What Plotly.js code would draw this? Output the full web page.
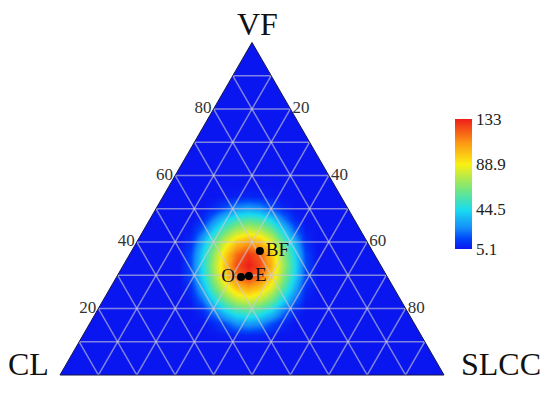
<!DOCTYPE html>
<html>
<head>
<meta charset="utf-8">
<script src="https://cdn.plot.ly/plotly-3.0.1.min.js"></script>
<style>html,body{margin:0;padding:0;background:#fff;}#chart{width:550px;height:393px;}</style>
</head>
<body>
<div id="chart"></div>
<script>
// ---- data ----
var pointNames = ['O', 'E', 'BF'];
var pointVF   = [29.5, 29.8, 37.3];   // a
var pointCL   = [38.1, 35.9, 29.3];   // b
var pointSLCC = [32.4, 34.3, 33.4];   // c
var pointTextPos = ['middle left', 'middle right', 'middle right'];

var tickVals = [10, 20, 30, 40, 50, 60, 70, 80, 90];
var tickText = ['', '20', '', '40', '', '60', '', '80', ''];

var cbTickVals = [5.1, 44.5, 88.9, 133];
var cbTickText = ['5.1', '44.5', '88.9', '133'];
var zMin = 5.1, zMax = 133;

// field values (grid in triangle units, base = 100)
var fieldX = [31, 34, 37, 40, 43, 46, 49, 52, 55, 58, 61, 64, 67];
var fieldY = [7.5, 10.5, 13.5, 16.5, 19.5, 22.5, 25.5, 28.5, 31.5, 34.5, 37.5, 40.5, 43.5, 46.5, 49.5];
var fieldZ = [
 [5.1,5.1,5.1,5.1,5.1,5.1,5.1,5.1,5.1,5.1,5.1,5.1,5.1],
 [5.1,5.1,5.1,5.1,6,7.6,8.5,7.6,6,5.1,5.1,5.1,5.1],
 [5.1,5.1,5.1,9,17,27,30,27,17,9,5.1,5.1,5.1],
 [5.1,5.1,9.4,24,41,52,56,52,41,24,9.4,5.1,5.1],
 [5.1,6.8,21,43,63,76,81,76,63,43,21,6.8,5.1],
 [5.1,10,34,59,82,98,105,98,82,59,34,10,5.1],
 [5.1,15,42,69,96,117,126,117,96,69,42,15,5.1],
 [5.1,16,45,73,101,124,133,125,102,74,46,16,5.1],
 [5.1,15,42,69,96,118,128,121,99,71,43,15,5.1],
 [5.1,10,34,59,82,99,108,102,85,61,35,10,5.1],
 [5.1,6.8,21,43,63,76,82,78,65,44,21,6.8,5.1],
 [5.1,5.1,9.4,24,41,52,56,53,42,24,9.4,5.1,5.1],
 [5.1,5.1,5.1,9,17,27,30,27,17,9,5.1,5.1,5.1],
 [5.1,5.1,5.1,5.1,6,7.6,8.5,7.6,6,5.1,5.1,5.1,5.1],
 [5.1,5.1,5.1,5.1,5.1,5.1,5.1,5.1,5.1,5.1,5.1,5.1,5.1]
];

// ---- styling ----
var W = 550, H = 393;
var triLeft = 60, triWidth = 384, triBase = 375;
var triHeight = triWidth * Math.sqrt(3) / 2;
var dom = {
  x: [triLeft / W, (triLeft + triWidth) / W],
  y: [1 - triBase / H, 1 - (triBase - triHeight) / H]
};
var BLUE = 'rgb(10,22,240)';
var colorscale = [
  [0, BLUE],
  [0.08, 'rgb(0,70,250)'],
  [0.16, 'rgb(20,140,250)'],
  [0.30, 'rgb(25,220,240)'],
  [0.45, 'rgb(110,230,130)'],
  [0.65, 'rgb(250,240,20)'],
  [0.82, 'rgb(252,150,20)'],
  [1, 'rgb(238,30,25)']
];
var serif = 'Liberation Serif, Times New Roman, serif';

function axisStyle(showLabels) {
  return {
    title: {text: ''},
    tickmode: 'array',
    tickvals: tickVals,
    ticktext: tickText,
    ticks: '',
    showticklabels: showLabels,
    tickfont: {family: serif, size: 17, color: '#333'},
    showgrid: true,
    gridcolor: 'rgba(205,205,215,0.6)',
    gridwidth: 1.5,
    showline: true,
    linecolor: '#15154a',
    linewidth: 1
  };
}

var heat = {
  type: 'heatmap',
  x: fieldX, y: fieldY, z: fieldZ,
  xaxis: 'x', yaxis: 'y',
  zmin: zMin, zmax: zMax,
  zsmooth: 'best',
  colorscale: colorscale,
  hoverinfo: 'skip',
  colorbar: {
    x: 455 / W, xanchor: 'left', xpad: 0,
    y: 1 - 184 / H, yanchor: 'middle', ypad: 0,
    lenmode: 'pixels', len: 130,
    thickness: 17,
    outlinewidth: 0,
    tickmode: 'array', tickvals: cbTickVals, ticktext: cbTickText,
    ticks: '',
    tickfont: {family: serif, size: 17, color: '#222'}
  }
};

var pts = {
  type: 'scatterternary',
  mode: 'markers+text',
  a: pointVF, b: pointCL, c: pointSLCC,
  text: pointNames,
  textposition: pointTextPos,
  textfont: {family: serif, size: 19, color: '#111'},
  marker: {color: '#000', size: 8},
  cliponaxis: false,
  hoverinfo: 'skip',
  showlegend: false
};

var layout = {
  width: W, height: H,
  margin: {l: 0, r: 0, t: 0, b: 0},
  paper_bgcolor: '#fff',
  plot_bgcolor: 'rgba(0,0,0,0)',
  showlegend: false,
  xaxis: {domain: dom.x, range: [0, 100], visible: false, fixedrange: true},
  yaxis: {domain: dom.y, range: [0, 100 * Math.sqrt(3) / 2], visible: false, fixedrange: true},
  ternary: {
    domain: dom,
    sum: 100,
    bgcolor: 'rgba(0,0,0,0)',
    aaxis: axisStyle(true),
    baxis: axisStyle(false),
    caxis: axisStyle(true)
  },
  shapes: [{
    type: 'path', xref: 'x', yref: 'y', layer: 'below',
    path: 'M 0 0 L 100 0 L 50 ' + (100 * Math.sqrt(3) / 2) + ' Z',
    fillcolor: BLUE, line: {width: 0}
  }],
  annotations: [
    {text: 'VF', xref: 'paper', yref: 'paper', x: 257 / W, y: 1 - 24 / H, showarrow: false,
     font: {family: serif, size: 32, color: '#111'}, xanchor: 'center', yanchor: 'middle'},
    {text: 'CL', xref: 'paper', yref: 'paper', x: 28 / W, y: 1 - 364 / H, showarrow: false,
     font: {family: serif, size: 32, color: '#111'}, xanchor: 'center', yanchor: 'middle'},
    {text: 'SLCC', xref: 'paper', yref: 'paper', x: 501 / W, y: 1 - 364 / H, showarrow: false,
     font: {family: serif, size: 32, color: '#111'}, xanchor: 'center', yanchor: 'middle'}
  ]
};

Plotly.newPlot('chart', [heat, pts], layout, {staticPlot: true, displayModeBar: false});
</script>
</body>
</html>
